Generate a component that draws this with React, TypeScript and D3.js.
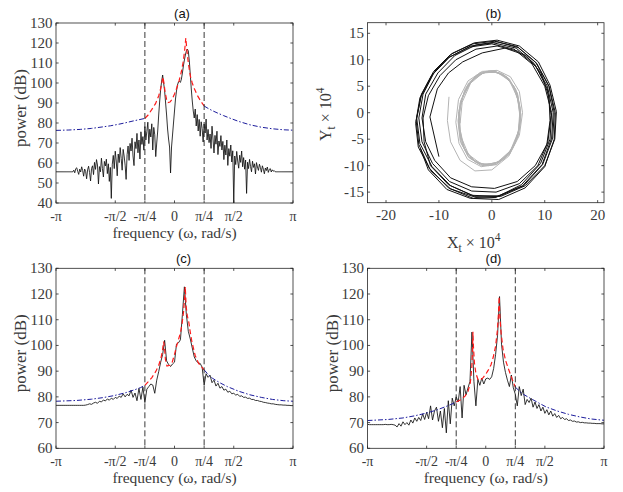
import React from 'react';
import * as d3 from 'd3';

const PI = Math.PI;

// ---------- axis ticks ----------
const freqTicks = [-PI, -PI / 2, -PI / 4, 0, PI / 4, PI / 2, PI];
const freqTickLabels = ['-π', '-π/2', '-π/4', '0', 'π/4', 'π/2', 'π'];
const powerTicksA = [40, 50, 60, 70, 80, 90, 100, 110, 120, 130];
const powerTicksCD = [60, 70, 80, 90, 100, 110, 120, 130];
const phaseTicksX = [-20, -10, 0, 10, 20];
const phaseTicksY = [-15, -10, -5, 0, 5, 10, 15];
const cutoffs = [-PI / 4, PI / 4];

// ---------- panel (a) ----------
const periodogramA = [
  55.6, 55.6, 55.6, 55.6, 55.6, 55.6, 55.6, 55.6, 55.6, 55.6, 55.6, 55.6, 55.6, 55.6, 55.6, 55.6, 55.6, 55.6,
  56.4, 55.1, 57.2, 57.6, 55.8, 54.3, 56.9, 55.5, 58.1, 56.2, 53.4, 57.0, 55.8, 52.1, 56.6, 58.4, 55.2, 51.0, 57.3,
  58.6, 54.2, 60.3, 56.8, 61.7, 59.0, 49.5, 58.2, 55.6, 62.4, 57.3, 53.0, 60.8, 58.5, 61.9, 54.7, 59.6, 50.8, 57.8,
  42.3,
  59.4, 63.8, 57.2, 65.9, 61.0, 53.6, 64.5, 60.2, 67.7, 62.3, 56.4, 66.8, 63.5, 58.9, 51.8,
  64.2, 68.5, 61.3, 69.8, 66.0, 72.4, 63.5, 58.7, 70.6, 67.2, 74.8, 65.1, 71.5, 62.0, 75.6, 69.3, 73.2, 66.4,
  78.2, 71.5, 75.8, 80.4, 69.7, 76.9, 73.0, 79.6, 66.5, 77.8, 74.1, 63.2,
  70.0, 76.0, 84.0, 91.0, 97.0, 101.0,
  104.0,
  100.0, 96.0, 90.0, 84.0, 77.0, 72.0, 68.0,
  55.0,
  68.0, 74.0, 80.0, 86.0, 92.0, 96.0, 99.0, 100.5, 100.8, 100.3, 102.0, 105.0, 108.5, 111.5, 114.0, 116.0,
  117.0,
  116.0, 111.0, 104.0, 97.0, 91.0, 86.0, 82.5,
  87.0, 78.5, 84.2, 76.0, 81.8, 73.4, 80.6, 77.2, 70.5, 79.5, 75.0, 82.0, 71.5,
  76.8, 70.2, 74.5, 67.3, 78.4, 72.0, 65.0, 73.8, 69.4, 75.9, 64.2, 71.0, 68.3, 73.7,
  66.5, 70.8, 61.7, 68.9, 64.0, 71.5, 58.8, 67.2, 63.4, 69.0, 60.5, 66.1,
  40.0,
  63.5, 59.2, 65.8, 61.0, 57.4, 63.9, 60.3, 66.0, 58.1, 62.7, 56.9, 61.5,
  44.8,
  60.4, 57.2, 61.8, 58.3, 55.6, 60.9, 57.8, 59.6, 54.5, 60.2, 58.0, 56.3, 59.4,
  57.8, 55.4, 58.6, 56.9, 54.6, 57.5, 56.2, 58.0, 55.3, 56.8, 57.2, 55.5, 56.6, 55.9, 56.2,
  55.6, 55.6, 55.6, 55.6, 55.6, 55.6, 55.6, 55.6, 55.6, 55.6, 55.6, 55.6, 55.6, 55.6, 55.6, 55.6, 55.6, 55.6, 55.6,
];
const modelFreqA = [-0.785, -0.7, -0.6, -0.5, -0.42, -0.37, -0.33, -0.305, -0.28, -0.25, -0.21, -0.17, -0.12, -0.06, 0, 0.06, 0.12, 0.18, 0.23, 0.27, 0.3, 0.33, 0.37, 0.42, 0.47, 0.53, 0.6, 0.7, 0.785];
const modelDbA = [82.3, 84, 86.8, 89.8, 93.5, 97, 100.5, 103, 100, 95.5, 91.8, 90.2, 90.5, 92, 94.5, 97.5, 101, 105.5, 110.5, 116.5, 122.5, 116, 109.5, 103.5, 100, 97, 94, 90.8, 88.5];
const tailFreqLeftA = [-PI, -2.8, -2.5, -2.2, -2.0, -1.7, -1.5, -1.3, -1.1, -0.95, -0.785];
const tailDbLeftA = [76.3, 76.5, 76.8, 77.3, 77.8, 78.6, 79.3, 80.1, 81.0, 81.6, 82.3];
const tailFreqRightA = [0.785, 0.9, 1.0, 1.15, 1.3, 1.5, 1.7, 2.0, 2.3, 2.6, 2.9, PI];
const tailDbRightA = [88.5, 87.2, 86.2, 84.9, 83.7, 82.2, 80.8, 79.1, 77.9, 77.1, 76.6, 76.4];

// ---------- panel (c) ----------
const periodogramC = [
  76.7, 76.7, 76.7, 76.7, 76.7, 76.7, 76.7, 76.7, 76.7, 76.7, 76.7, 76.7, 76.7, 76.7, 76.7, 76.8,
  77.0, 77.3, 77.1, 77.6, 77.9, 77.5, 78.3, 78.0, 78.8, 78.4, 79.2, 78.7, 79.5, 79.0, 79.8,
  79.4, 80.3, 79.8, 81.2, 80.0, 81.0, 80.4, 82.6, 79.8, 81.5,
  78.5, 83.3, 79.0, 83.8, 77.8,
  83.0, 84.0, 85.0, 84.6, 81.4, 86.5, 89.8, 93.5, 96.5, 102.0,
  94.0, 92.6, 91.8, 92.8, 93.5, 100.5, 101.0, 102.2, 112.0, 122.8,
  112.0, 105.5, 102.5, 99.0, 95.5, 94.0, 93.2, 93.0, 91.5, 84.6,
  89.0, 87.6, 88.4, 85.5, 86.5, 84.2, 85.3, 83.4, 84.0, 82.6,
  83.0, 81.8, 82.2, 81.2, 81.4, 80.7, 81.0, 80.2, 80.4, 79.8,
  79.9, 79.4, 79.5, 79.0, 79.0, 78.6, 78.6, 78.3, 78.2, 77.9,
  77.8, 77.6, 77.5, 77.3, 77.3, 77.1, 77.0, 76.9, 76.9, 76.8,
  76.8, 76.7, 76.7, 76.6, 76.6,
];
const modelFreqC = [-0.785, -0.7, -0.6, -0.5, -0.42, -0.36, -0.32, -0.29, -0.27, -0.24, -0.2, -0.12, -0.06, 0, 0.05, 0.11, 0.16, 0.2, 0.24, 0.265, 0.285, 0.31, 0.34, 0.38, 0.42, 0.46, 0.55, 0.64, 0.785];
const modelDbC = [84.5, 85.8, 87.5, 89.8, 92.2, 95, 97.8, 101.5, 100, 94.5, 92, 92.3, 93.5, 96.5, 99.5, 102.5, 105, 108.5, 113, 118, 122.8, 115, 111.5, 109, 105, 101.5, 96, 93, 90.5];
const tailFreqLeftC = [-PI, -2.6, -2.2, -1.9, -1.6, -1.3, -1.05, -0.9, -0.785];
const tailDbLeftC = [78.3, 78.6, 79.1, 79.7, 80.5, 81.6, 82.8, 83.6, 84.5];
const tailFreqRightC = [0.785, 0.9, 1.0, 1.2, 1.4, 1.7, 2.0, 2.3, 2.6, 2.9, PI];
const tailDbRightC = [90.5, 88.6, 87.3, 85.5, 84.0, 82.2, 80.8, 79.8, 79.0, 78.5, 78.3];

// ---------- panel (d) ----------
const periodogramD = [
  69.3, 69.2, 69.2, 69.2, 69.2, 69.2, 69.2, 69.2, 69.2, 69.3, 69.2, 69.2, 69.3, 69.2,
  69.0, 68.3, 69.6, 68.6, 70.3, 69.2, 70.0, 69.0, 71.0, 69.8, 71.8, 70.5, 72.0, 70.8, 73.4, 71.2, 74.0,
  71.5, 76.5, 71.0, 74.5, 76.0, 70.5, 74.5, 68.0, 75.5, 66.0, 78.5, 69.5, 79.5, 76.5, 80.0, 78.0, 84.0, 71.8, 84.5, 80.8, 83.5, 86.0,
  105.2, 86.0, 76.5, 86.8, 84.5, 87.3, 85.0, 87.0, 87.3, 86.8, 87.8, 91.0, 96.5, 104.0, 119.0,
  100.5, 93.5, 89.5, 86.5, 84.0, 88.5, 83.5, 81.0, 76.5, 84.0, 80.5, 83.0, 77.0, 79.0, 77.8, 79.5,
  76.0, 78.0, 75.5, 77.0, 74.5, 76.0, 73.6, 75.0, 73.0, 74.5, 72.5, 73.5, 72.0, 72.8, 71.5, 72.0, 71.2,
  71.5, 70.8, 71.0, 70.5, 70.6, 70.2, 70.3, 70.0, 70.1, 69.9, 69.9, 69.8, 69.8, 69.7, 69.7, 69.6, 69.6, 69.6, 69.5, 69.5,
];
const modelFreqD = [-0.785, -0.65, -0.55, -0.47, -0.41, -0.37, -0.35, -0.34, -0.325, -0.3, -0.26, -0.2, -0.14, -0.07, 0, 0.07, 0.14, 0.2, 0.26, 0.31, 0.34, 0.355, 0.375, 0.41, 0.46, 0.53, 0.6, 0.7, 0.785];
const modelDbD = [78, 79, 80.3, 82.2, 85.5, 91.5, 99, 105.3, 99, 93, 89, 86.5, 86.6, 87.5, 88.8, 90.5, 92.5, 95.5, 99.5, 106, 113, 119, 111, 104.5, 98.5, 94, 91, 87, 83.8];
const tailFreqLeftD = [-PI, -2.6, -2.2, -1.9, -1.6, -1.3, -1.05, -0.9, -0.785];
const tailDbLeftD = [70.8, 71.2, 71.8, 72.6, 73.6, 74.9, 76.3, 77.2, 78];
const tailFreqRightD = [0.785, 0.9, 1.0, 1.2, 1.4, 1.6, 1.9, 2.2, 2.5, 2.8, PI];
const tailDbRightD = [83.8, 82.2, 81, 79.3, 77.7, 76.1, 74.5, 73.2, 72.2, 71.4, 70.9];

// ---------- panel (b): phase trajectories (×10^4) ----------
const blackPath: [number, number][] = [
  [-10, -8.3], [-11.7, -0.8], [-10.3, 4.5], [-8.2, 7.5], [-5.5, 9.6], [-1.8, 11.3], [2.5, 12.2], [6.5, 10.8], [9.3, 7.5], [10.8, 3], [11, -1.5], [10.4, -6], [8.2, -10], [4.8, -13], [0.5, -14.3], [-3.8, -14], [-7.8, -12.3], [-10.8, -9],
  [-12.5, -5.5], [-13.2, -1], [-12.5, 3.5], [-10.2, 7.5], [-7, 10.8], [-3, 12.8], [1, 13.4], [5, 12.3], [8.5, 9.3], [10.8, 5], [11.8, 0], [11.5, -4.8], [9.6, -9.8], [6, -13.8], [1.5, -15.7], [-3.2, -15.8], [-7.8, -13.8], [-11.3, -10.2],
  [-13.6, -5.8], [-14.2, -1], [-13.3, 3.5], [-11, 7.8], [-7.8, 11], [-3.6, 13], [0.5, 13.5], [4.8, 12.5], [8.3, 9.5], [10.8, 5], [12, 0], [11.8, -5], [10, -10.2], [6.3, -14.2], [1.3, -16.4], [-3.5, -16.2], [-8.2, -14.2], [-11.8, -10.5],
  [-13.8, -6], [-14.3, -1.5], [-13.4, 3], [-11.2, 7.2], [-8, 10.5], [-4, 12.6], [0.3, 13.2], [4.6, 12.2], [8, 9.3], [10.5, 5], [11.6, 0], [11.3, -4.8], [9.5, -9.8], [5.8, -13.8], [1, -15.8], [-3.8, -15.6], [-8.2, -13.6], [-11.6, -10],
  [-12.8, -5.5], [-13, -1], [-12, 3.2], [-9.8, 7], [-6.8, 10], [-3, 12], [1, 12.6], [5, 11.6], [8.3, 8.8], [10.5, 4.5], [11.2, -0.5], [10.6, -5.5], [8.7, -10], [5.2, -13.4], [0.8, -15], [-3.8, -14.8], [-8, -13], [-11.2, -9.6],
  [-13.2, -5.5], [-13.8, -1], [-13, 3.5], [-10.8, 7.8], [-7.5, 11.2], [-3.3, 13.2], [1, 13.7], [5.2, 12.6], [8.8, 9.6], [11, 5.2], [12.2, 0.2], [11.9, -5], [10, -10], [6.3, -13.8], [1.7, -15.8], [-3, -16], [-7.8, -14.4], [-11.5, -11],
  [-13.9, -6.5], [-14.4, -2], [-13.6, 2.8], [-11.4, 7], [-8.2, 10.4], [-4.2, 12.4], [0, 13], [4.2, 12], [7.6, 9.2], [10, 5], [11.3, 0], [11, -5], [9.2, -9.6], [5.6, -13.6], [0.8, -16], [-4, -16.2], [-8.5, -14.5], [-12, -10.8],
  [-13.5, -6.8],
];
const grayPath: [number, number][] = [
  [-8.1, 3], [-8.4, -1.5], [-7.8, -5.5], [-6, -9], [-3.2, -11], [0, -10.8], [3.2, -8.2], [5.2, -4.3], [5.8, 0], [5.2, 4], [3.5, 6.8], [1, 8], [-1.8, 7.8], [-4.5, 6],
  [-6.3, 2.5], [-6.8, -1.8], [-6.2, -5.8], [-4.6, -8.8], [-2, -10.2], [0.8, -9.8], [3.4, -7.6], [5, -4], [5.4, 0], [4.8, 3.8], [3, 6.6], [0.5, 7.9], [-2.2, 7.6], [-4.4, 5.6],
  [-5.9, 2.2], [-6.3, -2], [-5.8, -5.8], [-4.2, -8.6], [-1.8, -9.9], [1, -9.4], [3.5, -7.2], [5, -3.6], [5.3, 0.3], [4.6, 4], [2.8, 6.8], [0.2, 7.9], [-2.5, 7.3], [-4.6, 5],
  [-6, 1.8], [-6.2, -2.4], [-5.5, -6.2], [-3.8, -8.8], [-1.2, -9.9], [1.5, -9.2], [3.9, -6.8], [5.2, -3.2], [5.4, 0.8], [4.5, 4.5], [2.5, 7], [-0.2, 7.9], [-2.9, 7.1], [-5, 4.6],
  [-6.1, 0.8], [-6, -3.2], [-5.2, -6.8], [-3.2, -9.3], [-0.6, -10], [2.1, -8.9], [4.2, -6.2], [5.3, -2.5], [5.2, 1.5], [4.2, 5], [2.1, 7.3], [-0.6, 7.9], [-3.2, 6.8], [-5.2, 4],
  [-6.3, 0.2], [-6.1, -3.8], [-5, -7.3], [-2.8, -9.5], [0, -9.9], [2.6, -8.5], [4.5, -5.6], [5.4, -1.8], [5, 2.2], [3.8, 5.5], [1.6, 7.5], [-1, 7.8], [-3.6, 6.4], [-5.5, 3.2],
  [-6.3, -0.8], [-5.8, -4.6], [-4.4, -7.9], [-2, -9.7], [0.8, -9.6], [3.2, -7.8], [4.9, -4.6], [5.4, -0.8], [4.8, 3], [3.3, 6.1], [1, 7.6], [-1.6, 7.6], [-4, 5.8], [-5.7, 2.5],
  [-6.4, -1.5], [-6, -5.2], [-4.5, -8.3], [-2, -10], [0.9, -9.8], [3.4, -7.8], [5, -4.3], [5.5, -0.4], [4.9, 3.4], [3.3, 6.4], [0.9, 7.7], [-1.7, 7.5], [-4, 5.6], [-5.6, 2], [-6, -2],
];

// ---------- styling ----------
const SERIF = '"Liberation Serif", "Times New Roman", serif';
const SANS = '"Liberation Sans", Arial, sans-serif';
const AXIS = '#262626';
const TEXT = '#3a3a3a';
const TICK = 2.6;

type Box = { left: number; top: number; w: number; h: number };

function Frame({ box, x, y, xTicks, xLabels, yTicks, yLabels, xFont }: any) {
  const b = box as Box;
  const bottom = b.top + b.h;
  const right = b.left + b.w;
  return (
    <g>
      <rect x={b.left} y={b.top} width={b.w} height={b.h} fill="none" stroke={AXIS} strokeWidth={0.8} />
      {xTicks.map((t: number, i: number) => (
        <g key={'x' + i}>
          <line x1={x(t)} x2={x(t)} y1={bottom} y2={bottom - TICK} stroke={AXIS} strokeWidth={0.8} />
          <line x1={x(t)} x2={x(t)} y1={b.top} y2={b.top + TICK} stroke={AXIS} strokeWidth={0.8} />
          <text x={x(t)} y={bottom + 17.5} textAnchor="middle" fontFamily={SERIF} fontSize={xFont} fill={TEXT}>
            {xLabels[i]}
          </text>
        </g>
      ))}
      {yTicks.map((t: number, i: number) => (
        <g key={'y' + i}>
          <line x1={b.left} x2={b.left + TICK} y1={y(t)} y2={y(t)} stroke={AXIS} strokeWidth={0.8} />
          <line x1={right} x2={right - TICK} y1={y(t)} y2={y(t)} stroke={AXIS} strokeWidth={0.8} />
          <text x={b.left - 3.5} y={y(t) + 5} textAnchor="end" fontFamily={SERIF} fontSize={15} fill={TEXT}>
            {yLabels[i]}
          </text>
        </g>
      ))}
    </g>
  );
}

function SpectrumPanel(props: any) {
  const { box, yDomain, yTicks, psd, mF, mD, lF, lD, rF, rD, title, titleX, id } = props;
  const b = box as Box;
  const x = d3.scaleLinear().domain([-PI, PI]).range([b.left, b.left + b.w]);
  const y = d3.scaleLinear().domain(yDomain).range([b.top + b.h, b.top]);
  const grid = d3.range(psd.length).map((i) => -PI + (2 * PI * i) / (psd.length - 1));
  const line = d3
    .line<[number, number]>()
    .x((d) => x(d[0]))
    .y((d) => y(d[1]));
  const pts = (f: number[], v: number[]) => f.map((w, i) => [w, v[i]] as [number, number]);
  return (
    <g>
      <defs>
        <clipPath id={id}>
          <rect x={b.left} y={b.top} width={b.w} height={b.h} />
        </clipPath>
      </defs>
      <g clipPath={`url(#${id})`}>
        <path d={line(pts(grid, psd)) || ''} fill="none" stroke="#111" strokeWidth={0.85} strokeLinejoin="round" />
        <path d={line(pts(mF, mD)) || ''} fill="none" stroke="#ff1a1a" strokeWidth={1.2} strokeDasharray="5,3" />
        <path d={line(pts(lF, lD)) || ''} fill="none" stroke="#1c1c9c" strokeWidth={1} strokeDasharray="5,2,1.5,2" />
        <path d={line(pts(rF, rD)) || ''} fill="none" stroke="#1c1c9c" strokeWidth={1} strokeDasharray="5,2,1.5,2" />
        {cutoffs.map((c, i) => (
          <line key={i} x1={x(c)} x2={x(c)} y1={b.top} y2={b.top + b.h} stroke="#222" strokeWidth={0.9} strokeDasharray="6,3" />
        ))}
      </g>
      <Frame box={b} x={x} y={y} xTicks={freqTicks} xLabels={freqTickLabels} yTicks={yTicks} yLabels={yTicks.map(String)} xFont={14} />
      <text x={titleX} y={b.top - 5} textAnchor="middle" fontFamily={SANS} fontSize={13} fill="#111">
        {title}
      </text>
      <text x={b.left + b.w / 2} y={b.top + b.h + 34.5} textAnchor="middle" fontFamily={SERIF} fontSize={15.5} fill={TEXT}>
        frequency (ω, rad/s)
      </text>
      <text
        transform={`translate(${b.left - 30},${b.top + b.h / 2 - 5}) rotate(-90)`}
        textAnchor="middle"
        fontFamily={SERIF}
        fontSize={17}
        fill={TEXT}
      >
        power (dB)
      </text>
    </g>
  );
}

function PhasePanel({ box }: { box: Box }) {
  const b = box;
  const x = d3.scaleLinear().domain([-23.5, 21.2]).range([b.left, b.left + b.w]);
  const y = d3.scaleLinear().domain([-17, 17]).range([b.top + b.h, b.top]);
  const line = d3
    .line<[number, number]>()
    .x((d) => x(d[0]))
    .y((d) => y(d[1]));
  return (
    <g>
      <defs>
        <clipPath id="clipB">
          <rect x={b.left} y={b.top} width={b.w} height={b.h} />
        </clipPath>
      </defs>
      <g clipPath="url(#clipB)">
        <path d={line(blackPath) || ''} fill="none" stroke="#111" strokeWidth={1} strokeLinejoin="round" />
        <path d={line(grayPath) || ''} fill="none" stroke="#b4b4b4" strokeWidth={1} strokeLinejoin="round" />
      </g>
      <Frame box={b} x={x} y={y} xTicks={phaseTicksX} xLabels={phaseTicksX.map(String)} yTicks={phaseTicksY} yLabels={phaseTicksY.map(String)} xFont={15} />
      <text x={493.5} y={b.top - 5} textAnchor="middle" fontFamily={SANS} fontSize={13} fill="#111">
        (b)
      </text>
      <text x={447} y={248} fontFamily={SERIF} fontSize={16} fill={TEXT}>
        X<tspan dy={4} fontSize={11.5}>t</tspan>
        <tspan dy={-4}> × 10</tspan>
        <tspan dy={-7} fontSize={11.5}>4</tspan>
      </text>
      <text transform={`translate(331,141) rotate(-90)`} fontFamily={SERIF} fontSize={16} fill={TEXT}>
        Y<tspan dy={4} fontSize={11.5}>t</tspan>
        <tspan dy={-4}> × 10</tspan>
        <tspan dy={-7} fontSize={11.5}>4</tspan>
      </text>
    </g>
  );
}

export default function App() {
  const boxA: Box = { left: 56, top: 23, w: 237, h: 180 };
  const boxB: Box = { left: 367.5, top: 22.7, w: 236.5, h: 180 };
  const boxC: Box = { left: 56, top: 268.3, w: 237, h: 180 };
  const boxD: Box = { left: 367.5, top: 268.3, w: 236.5, h: 180 };
  return (
    <svg width={623} height={492} style={{ position: 'absolute', left: 0, top: 0, background: '#fff' }}>
      <rect x={0} y={0} width={623} height={492} fill="#fff" />
      <SpectrumPanel box={boxA} yDomain={[40, 130]} yTicks={powerTicksA} psd={periodogramA} mF={modelFreqA} mD={modelDbA} lF={tailFreqLeftA} lD={tailDbLeftA} rF={tailFreqRightA} rD={tailDbRightA} title="(a)" titleX={182} id="clipA" />
      <PhasePanel box={boxB} />
      <SpectrumPanel box={boxC} yDomain={[60, 130]} yTicks={powerTicksCD} psd={periodogramC} mF={modelFreqC} mD={modelDbC} lF={tailFreqLeftC} lD={tailDbLeftC} rF={tailFreqRightC} rD={tailDbRightC} title="(c)" titleX={183.5} id="clipC" />
      <SpectrumPanel box={boxD} yDomain={[60, 130]} yTicks={powerTicksCD} psd={periodogramD} mF={modelFreqD} mD={modelDbD} lF={tailFreqLeftD} lD={tailDbLeftD} rF={tailFreqRightD} rD={tailDbRightD} title="(d)" titleX={493.5} id="clipD" />
    </svg>
  );
}
